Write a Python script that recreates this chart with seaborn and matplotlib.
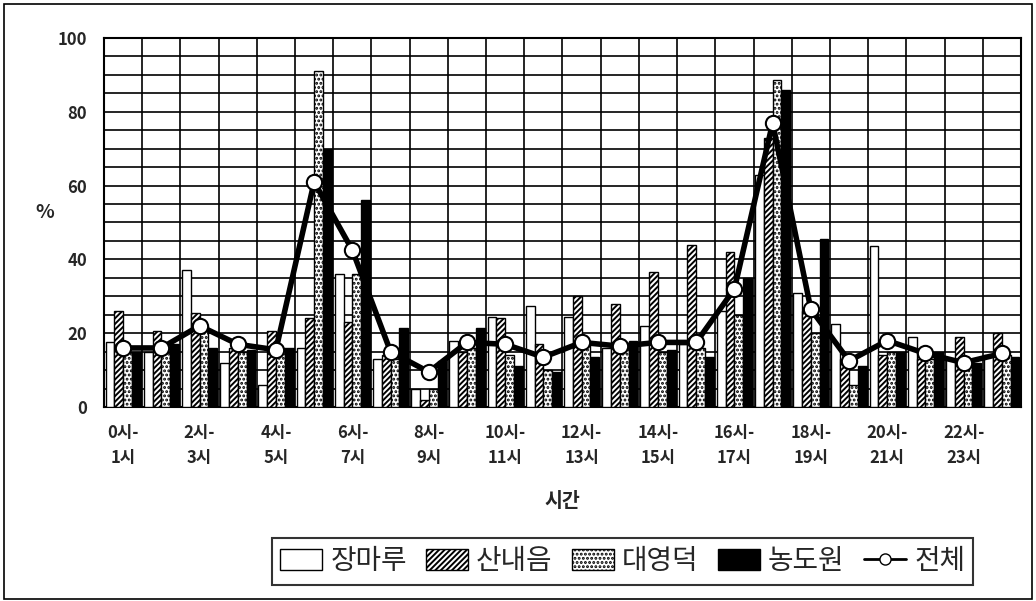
import numpy as np
import pandas as pd
import matplotlib
matplotlib.use("Agg")
import matplotlib.pyplot as plt
from matplotlib.patches import Patch, Rectangle
from matplotlib.lines import Line2D
import seaborn as sns

# Hourly share (%) per site
hours = [f"{h}시-{h + 1}시" for h in range(24)]
jangmaru = [17.5, 15, 37, 12, 6, 16, 36, 13, 5, 18, 24.5, 27.5, 24.5, 16, 22, 17, 26, 63, 31, 22.5, 43.5, 19, 13, 14]
sannaeum = [26, 20.5, 25.5, 16, 20.5, 24, 23, 14, 2, 15, 24, 17, 30, 28, 36.5, 44, 42, 73, 26, 13, 14, 13, 19, 20]
daeyeongdeok = [15, 15, 22, 15, 16, 91, 36, 13, 5, 16, 14, 10, 17, 16, 15, 16, 25, 88.5, 20, 6, 15, 13, 12, 14]
nongdowon = [15, 17, 16, 15.5, 16, 70, 56, 21.5, 12.5, 21.5, 11, 9.5, 13.5, 18, 15.5, 13.5, 35, 86, 45.5, 11, 15, 15, 12, 13.5]
total = [16, 16, 22, 17, 15.5, 61, 42.5, 15, 9.5, 17.5, 17, 13.5, 17.5, 16.5, 17.5, 17.5, 32, 77, 26.5, 12.5, 18, 14.5, 12, 14.5]

sites = ["장마루", "산내음", "대영덕", "농도원"]
tick_labels = [f"{h}시-\n{h + 1}시" for h in range(0, 24, 2)]

df = pd.DataFrame({
    "hour": hours * 4,
    "site": np.repeat(sites, 24),
    "pct": jangmaru + sannaeum + daeyeongdeok + nongdowon,
})

sns.set_theme(style="white")
plt.rcParams["font.family"] = ["Noto Sans CJK KR", "DejaVu Sans"]
plt.rcParams["hatch.linewidth"] = 1.4

fig = plt.figure(figsize=(10.36, 6.01), dpi=100)
ax = fig.add_axes([0.1004, 0.3228, 0.8851, 0.614])

face = {"장마루": "white", "산내음": "white", "대영덕": "white", "농도원": "black"}
hatch = {"장마루": "", "산내음": "//////", "대영덕": "....", "농도원": ""}

sns.barplot(data=df, x="hour", y="pct", hue="site", hue_order=sites,
            order=hours, palette=["white"] * 4, width=0.92, dodge=True,
            edgecolor="black", linewidth=1.0, legend=False, ax=ax, zorder=3)

for site, cont in zip(sites, ax.containers):
    for bar in cont:
        bar.set_facecolor(face[site])
        bar.set_hatch(hatch[site])
        bar.set_edgecolor("black")

sns.lineplot(x=np.arange(24), y=total, ax=ax, color="black", linewidth=4,
             marker="o", markersize=11, markerfacecolor="white",
             markeredgecolor="black", markeredgewidth=1.5, zorder=5)

ax.set_xlim(-0.5, 23.5)
ax.set_ylim(0, 100)

ax.set_yticks(np.arange(0, 101, 20))
ax.set_yticks(np.arange(0, 101, 5), minor=True)
ax.set_xticks(np.arange(0, 24, 2))
ax.set_xticklabels(tick_labels, fontsize=12, fontweight="bold", linespacing=1.5)
ax.set_xticks(np.arange(-0.5, 24, 1), minor=True)
for lbl in ax.get_yticklabels():
    lbl.set_fontsize(12)
    lbl.set_fontweight("bold")

ax.grid(False)
ax.grid(which="both", axis="y", color="black", linewidth=1.2, zorder=0)
ax.grid(which="minor", axis="x", color="black", linewidth=1.2, zorder=0)
ax.set_axisbelow(True)
ax.tick_params(axis="both", which="both", length=0, pad=12)

for s in ax.spines.values():
    s.set_color("black")
    s.set_linewidth(1.5)

ax.set_xlabel("시간", fontsize=14, fontweight="bold", labelpad=18)
ax.set_ylabel("%", fontsize=14, fontweight="bold", rotation=0, labelpad=30)
ax.yaxis.set_label_coords(-0.065, 0.5)

handles = [
    Patch(facecolor="white", edgecolor="black", label="장마루"),
    Patch(facecolor="white", edgecolor="black", hatch="//////", label="산내음"),
    Patch(facecolor="white", edgecolor="black", hatch="....", label="대영덕"),
    Patch(facecolor="black", edgecolor="black", label="농도원"),
    Line2D([0], [0], color="black", linewidth=2, marker="o", markersize=8,
           markerfacecolor="white", markeredgecolor="black", label="전체"),
]
leg = fig.legend(handles=handles, loc="center", bbox_to_anchor=(0.601, 0.066),
                 ncol=5, fontsize=20, frameon=True, fancybox=False,
                 handlelength=1.5, handleheight=0.8, handletextpad=0.3,
                 columnspacing=0.7, borderpad=0.3, edgecolor="black")
leg.get_frame().set_linewidth(1.5)

fig.patches.append(Rectangle((0.004, 0.004), 0.992, 0.99, transform=fig.transFigure,
                             fill=False, edgecolor="black", linewidth=1.2))

fig.savefig("out.png", dpi=100)
